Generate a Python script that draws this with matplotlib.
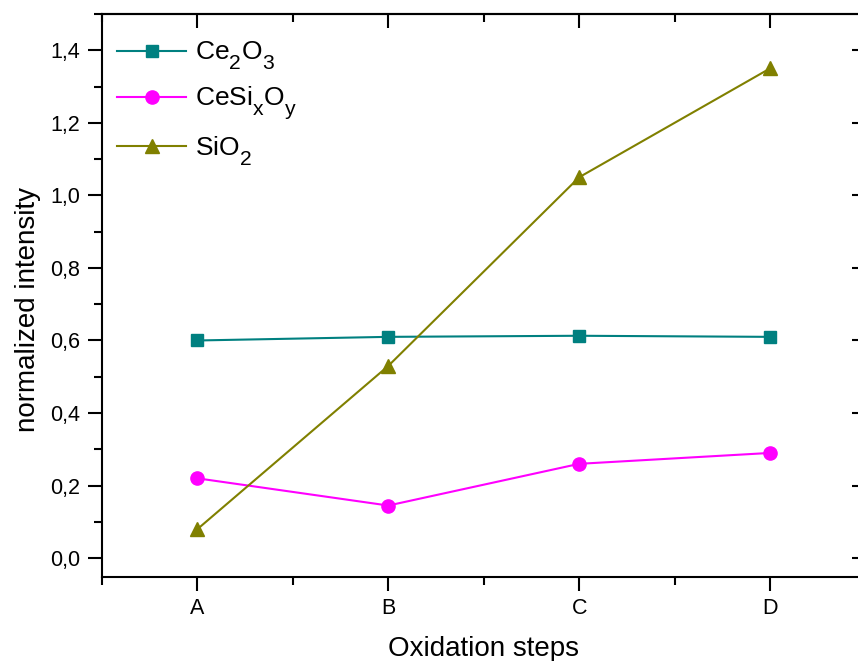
import matplotlib
matplotlib.use("Agg")
import matplotlib.pyplot as plt
from matplotlib.ticker import FixedLocator, FuncFormatter, MultipleLocator

try:
    import matplotlib._mathtext as _mt
    _mt.SHRINK_FACTOR = 0.8
    _mt.FontConstantsBase.sub1 = 0.75
    _mt.FontConstantsBase.sub2 = 0.75
except Exception:
    pass

plt.rcParams['font.family'] = ['Liberation Sans', 'DejaVu Sans']
plt.rcParams['mathtext.fontset'] = 'custom'
plt.rcParams['mathtext.rm'] = 'Liberation Sans'
plt.rcParams['mathtext.it'] = 'Liberation Sans:italic'

categories = ['A', 'B', 'C', 'D']
ce2o3 = [0.600, 0.610, 0.613, 0.610]
cesixoy = [0.220, 0.145, 0.260, 0.290]
sio2 = [0.080, 0.530, 1.050, 1.350]
series_labels = ['Ce$_2$O$_3$', 'CeSi$_\\mathrm{x}$O$_\\mathrm{y}$', 'SiO$_2$']
y_ticks = [0.0, 0.2, 0.4, 0.6, 0.8, 1.0, 1.2, 1.4]

fig = plt.figure(figsize=(8.58, 6.61), dpi=100)
ax = fig.add_axes([102/858, 1-577/661, (865.5-102)/858, (577-14)/661])

x = list(range(len(categories)))
ax.plot(x, ce2o3, color='#008080', marker='s', markersize=8.5, lw=1.5, label=series_labels[0])
ax.plot(x, cesixoy, color='#FF00FF', marker='o', markersize=9.5, lw=1.5, label=series_labels[1])
ax.plot(x, sio2, color='#808000', marker='^', markersize=10, lw=1.5, label=series_labels[2])

ax.set_xlim(-0.5, 3.5)
ax.set_ylim(-0.052, 1.5)
ax.xaxis.set_major_locator(FixedLocator(x))
ax.set_xticklabels(categories)
ax.xaxis.set_minor_locator(FixedLocator([-0.5, 0.5, 1.5, 2.5, 3.5]))
ax.yaxis.set_major_locator(FixedLocator(y_ticks))
ax.yaxis.set_minor_locator(MultipleLocator(0.1))
ax.yaxis.set_major_formatter(FuncFormatter(lambda v, p: f"{v:.1f}".replace('.', ',')))

for s in ax.spines.values():
    s.set_linewidth(1.5)
ax.tick_params(which='major', direction='out', length=10, width=1.5, labelsize=15.5, pad=6)
ax.tick_params(which='minor', direction='out', length=6, width=1.5)
ax.tick_params(which='both', top=False, right=False)
ax.tick_params(axis='x', which='major', pad=5)

sec_x = ax.secondary_xaxis('top')
sec_x.xaxis.set_major_locator(FixedLocator(x))
sec_x.xaxis.set_minor_locator(FixedLocator([-0.5, 0.5, 1.5, 2.5, 3.5]))
sec_x.tick_params(which='major', direction='in', length=10, width=1.5, labeltop=False)
sec_x.tick_params(which='minor', direction='in', length=6, width=1.5)
sec_x.spines['top'].set_linewidth(1.5)
sec_y = ax.secondary_yaxis('right')
sec_y.yaxis.set_major_locator(FixedLocator(y_ticks))
sec_y.yaxis.set_minor_locator(MultipleLocator(0.1))
sec_y.tick_params(which='major', direction='in', length=10, width=1.5, labelright=False)
sec_y.tick_params(which='minor', direction='in', length=6, width=1.5)

ax.set_xlabel('Oxidation steps', fontsize=20, labelpad=12)
ax.set_ylabel('normalized intensity', fontsize=20, labelpad=6)
ax.yaxis.label.set_y((577 - 309) / 563)

ax.legend(loc='upper left', frameon=False, fontsize=19, handlelength=2.6,
          handletextpad=0.35, labelspacing=0.47, borderaxespad=0.0,
          borderpad=0.0, bbox_to_anchor=(0.02, 0.954))

fig.savefig('out.png', dpi=100)
